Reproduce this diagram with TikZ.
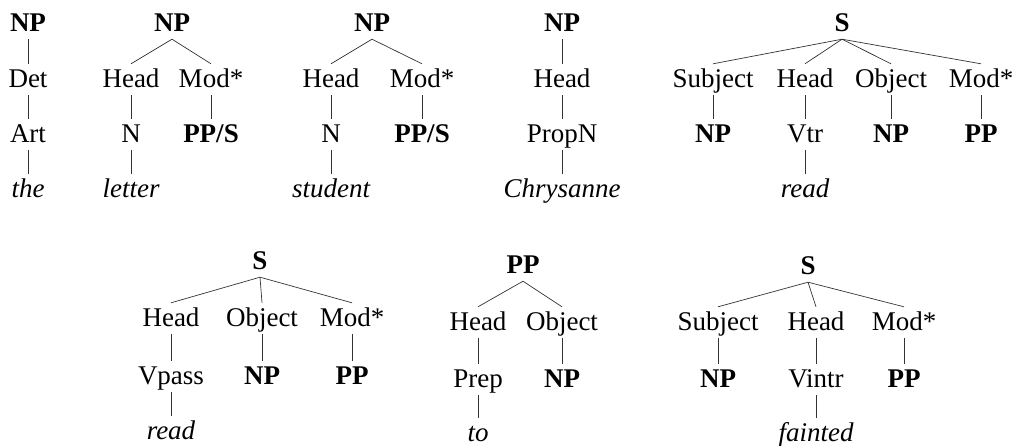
\documentclass[tikz,border=0pt]{standalone}
\usepackage{fontspec}
\setmainfont{Liberation Serif}
\tikzset{
  lbl/.style = {
    anchor=base, inner xsep=2pt, inner ysep=4pt,
    text height=19pt, text depth=4pt,
    font=\fontsize{27}{32}\selectfont
  },
  cat/.style = {lbl, font=\fontsize{27}{32}\selectfont\bfseries},
  word/.style = {lbl, font=\fontsize{27}{32}\selectfont\itshape},
  branch/.style = {draw, line width=0.7pt, black!80}
}

\begin{document}
\begin{tikzpicture}[x=1pt,y=-1pt]
  \useasboundingbox (0,0) rectangle (1019,445);
  % NP -> Det Art the
  \node[cat]  (np1)  at (28,31)  {NP};
  \node[lbl]  (det1) at (28,87)  {Det};
  \node[lbl]  (art1) at (28,142) {Art};
  \node[word] (the1) at (28,197) {the};
  % NP -> Head Mod* (letter)
  \node[cat]  (np2)     at (172,31)  {NP};
  \node[lbl]  (head2)   at (131,87)  {Head};
  \node[lbl]  (mod2)    at (211,87)  {Mod*};
  \node[lbl]  (n2)      at (131,142) {N};
  \node[cat]  (pps2)    at (211,142) {PP/S};
  \node[word] (letter2) at (131,197) {letter};
  % NP -> Head Mod* (student)
  \node[cat]  (np3)      at (372,31)  {NP};
  \node[lbl]  (head3)    at (331,87)  {Head};
  \node[lbl]  (mod3)     at (422,87)  {Mod*};
  \node[lbl]  (n3)       at (331,142) {N};
  \node[cat]  (pps3)     at (422,142) {PP/S};
  \node[word] (student3) at (331,197) {student};
  % NP -> Head (proper name)
  \node[cat]  (np4)    at (562,31)  {NP};
  \node[lbl]  (head4)  at (562,87)  {Head};
  \node[lbl]  (propn4) at (562,142) {PropN};
  \node[word] (chrys4) at (562,197) {Chrysanne};
  % transitive S
  \node[cat]  (s5)    at (842,31)  {S};
  \node[lbl]  (subj5) at (713,87)  {Subject};
  \node[lbl]  (head5) at (805,87)  {Head};
  \node[lbl]  (obj5)  at (891,87)  {Object};
  \node[lbl]  (mod5)  at (981,87)  {Mod*};
  \node[cat]  (npa5)  at (713,142) {NP};
  \node[lbl]  (vtr5)  at (805,142) {Vtr};
  \node[cat]  (npb5)  at (891,142) {NP};
  \node[cat]  (pp5)   at (981,142) {PP};
  \node[word] (read5) at (805,197) {read};
  % passive S
  \node[cat]  (s6)     at (260,269) {S};
  \node[lbl]  (head6)  at (171,326) {Head};
  \node[lbl]  (obj6)   at (262,326) {Object};
  \node[lbl]  (mod6)   at (352,326) {Mod*};
  \node[lbl]  (vpass6) at (171,384) {Vpass};
  \node[cat]  (np6)    at (262,384) {NP};
  \node[cat]  (pp6)    at (352,384) {PP};
  \node[word] (read6)  at (171,439) {read};
  % PP
  \node[cat]  (pp7)   at (523,273) {PP};
  \node[lbl]  (head7) at (478,330) {Head};
  \node[lbl]  (obj7)  at (562,330) {Object};
  \node[lbl]  (prep7) at (478,387) {Prep};
  \node[cat]  (np7)   at (562,387) {NP};
  \node[word] (to7)   at (478,441) {to};
  % intransitive S
  \node[cat]  (s8)     at (808,274) {S};
  \node[lbl]  (subj8)  at (718,330) {Subject};
  \node[lbl]  (head8)  at (816,330) {Head};
  \node[lbl]  (mod8)   at (904,330) {Mod*};
  \node[cat]  (np8)    at (718,387) {NP};
  \node[lbl]  (vintr8) at (816,387) {Vintr};
  \node[cat]  (pp8)    at (904,387) {PP};
  \node[word] (faint8) at (816,441) {fainted};
  % branches
  \foreach \a/\b in {np1/det1, det1/art1, art1/the1,
      np2/head2, np2/mod2, head2/n2, mod2/pps2, n2/letter2,
      np3/head3, np3/mod3, head3/n3, mod3/pps3, n3/student3,
      np4/head4, head4/propn4, propn4/chrys4,
      s5/subj5, s5/head5, s5/obj5, s5/mod5,
      subj5/npa5, head5/vtr5, obj5/npb5, mod5/pp5, vtr5/read5,
      s6/head6, s6/obj6, s6/mod6,
      head6/vpass6, obj6/np6, mod6/pp6, vpass6/read6,
      pp7/head7, pp7/obj7, head7/prep7, obj7/np7, prep7/to7,
      s8/subj8, s8/head8, s8/mod8,
      subj8/np8, head8/vintr8, mod8/pp8, vintr8/faint8}
    \draw[branch] (\a.south) -- (\b.north);
\end{tikzpicture}
\end{document}
